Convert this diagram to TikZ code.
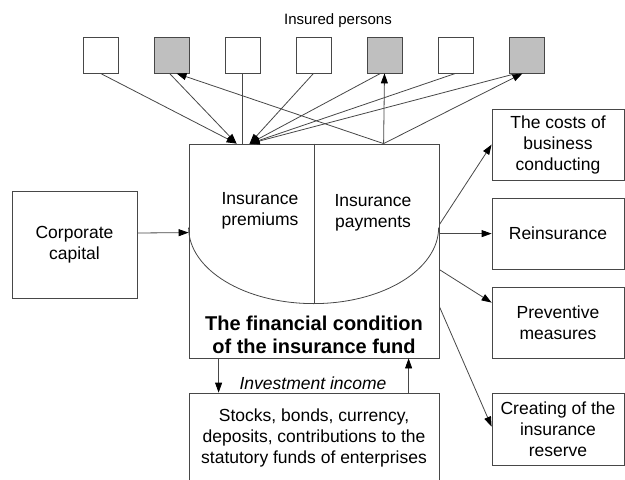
\documentclass[tikz,border=0pt]{standalone}
\usepackage{fontspec}
\setmainfont{Liberation Sans}
\usetikzlibrary{arrows.meta,calc}
\begin{document}
\begin{tikzpicture}[x=1pt,y=-1pt,
  line/.style={draw=black!72, line width=0.8pt},
  arr/.style={line, -{Triangle[length=10pt,width=7pt,color=black]}},
  txt/.style={inner sep=0pt, align=center, font=\fontsize{17.5}{21}\selectfont},
  box/.style={line, rectangle, inner sep=0pt, align=center, font=\fontsize{17.5}{21}\selectfont},
  person/.style={line, rectangle, inner sep=0pt, minimum width=35pt, minimum height=36pt, fill=white},
  grayp/.style={person, fill=black!25}]
\useasboundingbox (0,0) rectangle (625,480);

% insured persons
\node[txt, font=\fontsize{15}{18}\selectfont] (ins) at (338,21) {Insured persons};
\node[person] (b1) at (100.5,55) {};
\node[grayp]  (b2) at (171.5,55) {};
\node[person] (b3) at (242.5,55) {};
\node[person] (b4) at (313.5,55) {};
\node[grayp]  (b5) at (384.5,55) {};
\node[person] (b6) at (455.5,55) {};
\node[grayp]  (b7) at (526.5,55) {};

% main box
\node[box, minimum width=250pt, minimum height=214pt] (main) at (314,251) {};
\coordinate (pL) at ($(main.north west)+(48,0)$);
\coordinate (pR) at ($(main.north west)+(61,0)$);
\coordinate (pay) at ($(main.north west)+(195,0)$);
\draw[line] ($(main.north west)+(0,84)$) arc[start angle=180, end angle=360, x radius=125pt, y radius=76pt];
\draw[line] (main.north) -- ($(main.north)+(0,160)$);
\node[txt] (prem) at (260,211) {Insurance\\premiums};
\node[txt] (paym) at (373,213) {Insurance\\payments};
\node[txt, font=\fontsize{20}{23}\bfseries] (title) at (314,334.5) {The financial condition\\of the insurance fund};

% premiums
\draw[arr] (b1.south) -- (pL);
\draw[arr] ($(b2.south)+(-2,0)$) -- (pL);
\draw[line] (b3.south) -- (b3.south |- main.north);
\draw[arr] (b4.south) -- (pR);
\draw[arr] ($(b5.south)+(-4,0)$) -- (pR);
\draw[arr] (b6.south) -- (pR);
\draw[arr] ($(b7.south)+(-10,0)$) -- (pR);
% payments
\draw[arr] (pay) -- ($(b2.south)+(5,0)$);
\draw[arr] (pay) -- (b5.south);
\draw[arr] (pay) -- ($(b7.south)+(-4,0)$);

% corporate capital
\node[box, minimum width=125pt, minimum height=107pt] (corp) at (74.5,244.5) {Corporate\\capital};
\draw[arr] ($(corp.east)+(0,-11.5)$) -- ($(main.north west)+(0,89)$);

% right boxes
\node[box, minimum width=132pt, minimum height=71pt] (cost) at (558,144.5) {The costs of\\business\\conducting};
\node[box, minimum width=132pt, minimum height=71pt] (rein) at (558,233.5) {Reinsurance};
\node[box, minimum width=132pt, minimum height=71pt] (prev) at (558,322.5) {Preventive\\measures};
\node[box, minimum width=132pt, minimum height=72pt] (crea) at (558,429) {Creating of the\\insurance\\reserve};
\draw[arr] ($(main.north east)+(0,81)$) -- ($(cost.north west)+(0,36)$);
\draw[arr] ($(main.north east)+(0,90)$) -- ($(rein.north west)+(0,36)$);
\draw[arr] ($(main.north east)+(0,126)$) -- ($(prev.north west)+(0,16)$);
\draw[arr] ($(main.north east)+(0,163)$) -- ($(crea.north west)+(0,34)$);

% investments
\node[box, minimum width=250pt, minimum height=97pt] (bot) at (314,441.5) {};
\node[txt] (botxt) at (314,438) {Stocks, bonds, currency,\\deposits, contributions to the\\statutory funds of enterprises};
\draw[arr] ($(main.south west)+(30,0)$) -- ($(bot.north west)+(30,0)$);
\draw[arr] ($(bot.north west)+(220,0)$) -- ($(main.south west)+(220,0)$);
\node[txt, font=\fontsize{17.5}{21}\itshape] (inv) at (313,383) {Investment income};
\end{tikzpicture}
\end{document}
